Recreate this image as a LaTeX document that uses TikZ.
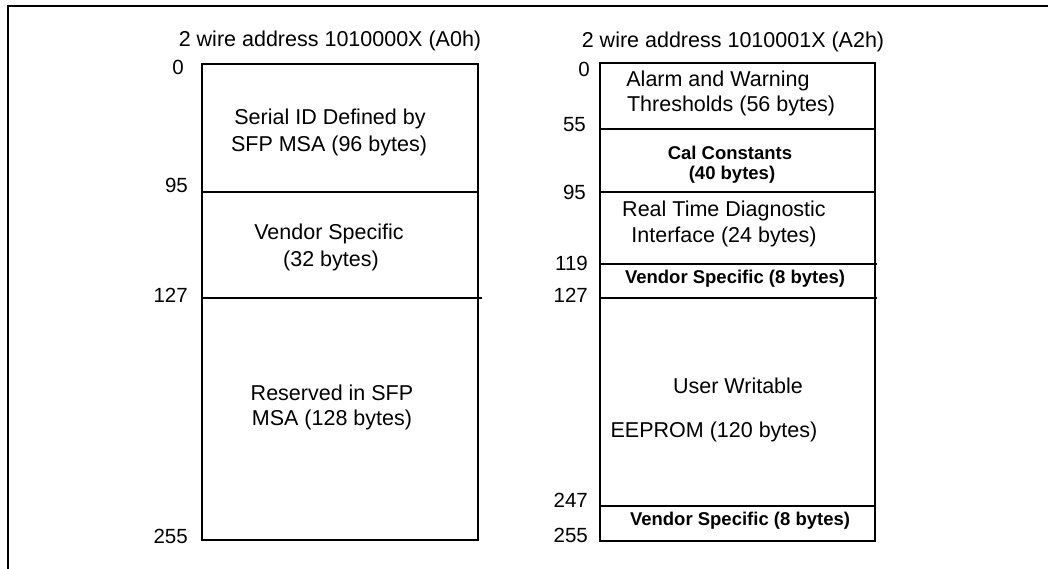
\documentclass[tikz,border=0pt]{standalone}
\usepackage{fontspec}
\setmainfont{Liberation Sans}
\begin{document}
\begin{tikzpicture}[x=1pt,y=-1pt,
  txt/.style={font=\fontsize{21.5}{25}\selectfont, anchor=base, inner sep=0pt},
  ttl/.style={font=\fontsize{21.5}{25}\selectfont, anchor=base, inner sep=0pt},
  btxt/.style={font=\fontsize{18.5}{21}\selectfont\bfseries, anchor=base, inner sep=0pt},
  num/.style={font=\fontsize{20.5}{24}\selectfont, anchor=base east, inner sep=0pt},
  mapbox/.style={draw, line width=1.6pt},
  sep/.style={line width=1.4pt},
  thicksep/.style={line width=2.2pt}]
\useasboundingbox (0,0) rectangle (1048,569);
% outer frame (top and left visible)
\draw[line width=2pt] (1048,6) -- (8,6) -- (8,569);

% ---------- A0h ----------
\node[ttl] (t0) at (330,47) {2 wire address 1010000X (A0h)};
\draw[mapbox] (202,64) rectangle (478,540);
\draw[sep] (202,192) -- (478,192);
\draw[sep] (202,298) -- (482,298);
\node[num] (l0)   at (184,75)  {0};
\node[num] (l95)  at (188,193) {95};
\node[num] (l127) at (188,302) {127};
\node[num] (l255) at (188,543) {255};
\node[txt] (a1) at (330,125) {Serial ID Defined by};
\node[txt] (a2) at (329,152) {SFP MSA (96 bytes)};
\node[txt] (a3) at (329,240) {Vendor Specific};
\node[txt] (a4) at (331,266) {(32 bytes)};
\node[txt] (a5) at (332,400) {Reserved in SFP};
\node[txt] (a6) at (332,425) {MSA (128 bytes)};

% ---------- A2h ----------
\node[ttl] (t2) at (733,48) {2 wire address 1010001X (A2h)};
\draw[mapbox] (600,63) rectangle (875,541);
\draw[thicksep] (600,129) -- (875,129);
\draw[sep] (600,192) -- (875,192);
\draw[thicksep] (600,264) -- (877,264);
\draw[sep] (600,298) -- (877,298);
\draw[sep] (600,506) -- (875,506);
\node[num] (r0)   at (590,77)  {0};
\node[num] (r55)  at (586,132) {55};
\node[num] (r95)  at (586,200) {95};
\node[num] (r119) at (588,270) {119};
\node[num] (r127) at (588,302) {127};
\node[num] (r247) at (588,507) {247};
\node[num] (r255) at (588,542) {255};
\node[txt] (b1) at (718,87)  {Alarm and Warning};
\node[txt] (b2) at (731,112) {Thresholds (56 bytes)};
\node[btxt] (b3) at (730,160) {Cal Constants};
\node[btxt] (b4) at (732,180) {(40 bytes)};
\node[txt] (b5) at (724,217) {Real Time Diagnostic};
\node[txt] (b6) at (724,243) {Interface (24 bytes)};
\node[btxt] (b7) at (735,283) {Vendor Specific (8 bytes)};
\node[txt] (b8) at (738,393) {User Writable};
\node[txt] (b9) at (714,437) {EEPROM (120 bytes)};
\node[btxt] (b10) at (740,525) {Vendor Specific (8 bytes)};
\end{tikzpicture}
\end{document}
